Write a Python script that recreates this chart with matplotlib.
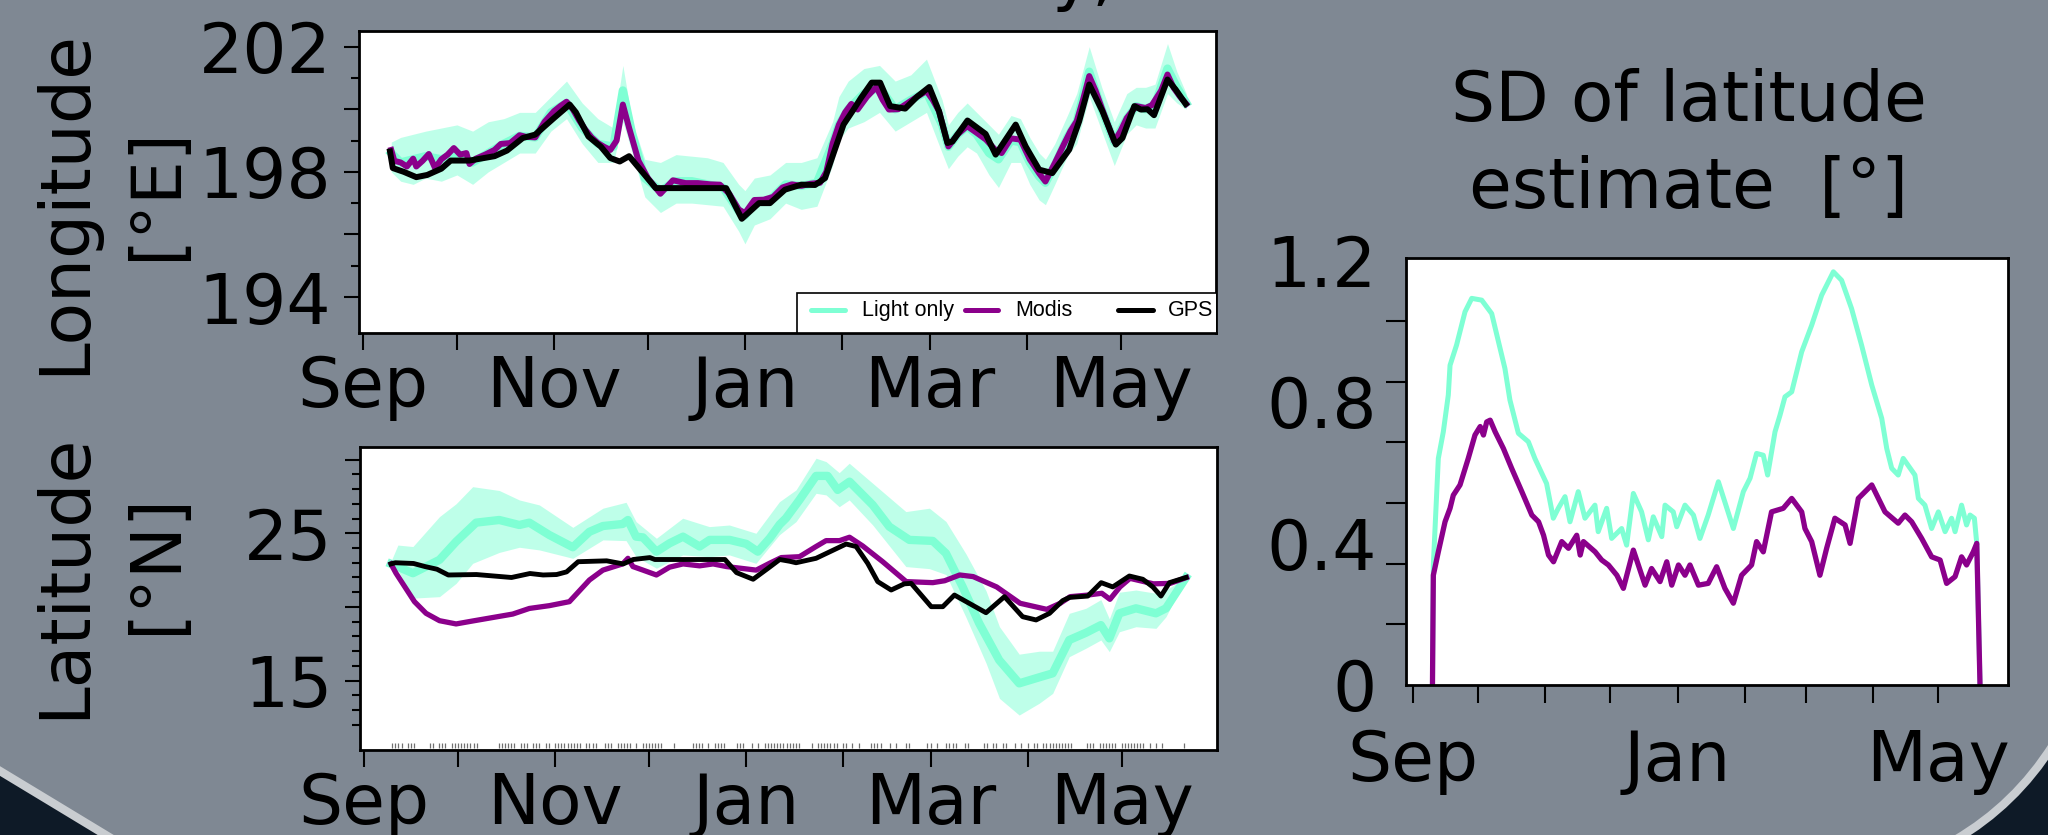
import numpy as np
import matplotlib.pyplot as plt
from matplotlib.path import Path
from matplotlib.patches import PathPatch, Rectangle
from matplotlib.lines import Line2D

W, H = 2048, 835
BG = '#7f8893'
MINT = '#7FFFD4'
PURPLE = '#8B008B'

# x axis: days since 1 September
month_ticks = [0, 30, 61, 91, 122, 153, 181, 212, 242]
month_labels = ['Sep', '', 'Nov', '', 'Jan', '', 'Mar', '', 'May']
sd_month_labels = ['Sep', '', '', '', 'Jan', '', '', '', 'May']

# ---------------- longitude panel ----------------
lon_band_days = [9, 12, 16, 20, 25, 30, 35, 40, 45, 50,
                 55, 60, 65, 70, 75, 80, 83, 86, 90, 95,
                 100, 105, 110, 115, 120, 122, 125, 130, 135, 140,
                 145, 150, 152, 155, 160, 165, 170, 175, 180, 185,
                 187, 190, 193, 196, 200, 203, 207, 210, 213, 216,
                 218, 221, 225, 228, 232, 236, 240, 244, 247, 250,
                 253, 257, 260, 263]
lon_light = [198.6, 198.3, 198.4, 198.5, 198.4, 198.6, 198.3, 198.6, 198.9, 199.15,
             199.1, 199.9, 200.2, 199.4, 198.9, 198.8, 200.6, 199.2, 197.8, 197.4,
             197.7, 197.7, 197.6, 197.5, 196.75, 196.6, 197.0, 197.1, 197.6, 197.55,
             197.65, 198.9, 199.5, 200.0, 200.5, 200.7, 200.0, 200.3, 200.55, 199.5,
             198.8, 199.2, 199.45, 199.2, 198.6, 198.4, 199.0, 198.95, 198.3, 197.85,
             197.65, 198.2, 199.1, 199.6, 201.2, 200.0, 198.95, 199.7, 200.1, 200.0,
             200.15, 201.3, 200.7, 200.2]
lon_light_lo = [198.0, 197.7, 197.6, 197.8, 197.7, 197.9, 197.6, 198.0, 198.3, 198.6,
                198.6, 199.3, 199.7, 198.9, 198.3, 198.3, 199.6, 198.6, 197.2, 196.7,
                197.0, 197.0, 196.95, 196.9, 196.1, 195.7, 196.3, 196.5, 197.0, 196.8,
                196.9, 198.2, 199.0, 199.4, 199.6, 199.9, 199.3, 199.6, 199.9, 198.6,
                198.1, 198.5, 198.8, 198.6, 197.9, 197.5, 198.3, 198.3, 197.6, 197.1,
                196.95, 197.6, 198.5, 198.9, 200.4, 199.3, 198.2, 199.2, 199.5, 199.4,
                199.4, 200.5, 200.2, 200.0]
lon_light_hi = [198.95, 199.1, 199.2, 199.3, 199.4, 199.5, 199.3, 199.6, 199.7, 199.9,
                199.9, 200.4, 200.9, 200.2, 199.7, 199.4, 201.4, 199.6, 198.4, 198.3,
                198.55, 198.5, 198.45, 198.3, 197.6, 197.4, 197.8, 197.9, 198.3, 198.3,
                198.45, 199.6, 200.4, 200.9, 201.3, 201.4, 200.9, 201.1, 201.6, 200.3,
                199.5, 199.9, 200.2, 199.9, 199.5, 199.2, 199.8, 199.7, 199.1, 198.6,
                198.4, 198.9, 199.8, 200.5, 202.0, 200.7, 199.6, 200.5, 200.7, 200.7,
                200.8, 202.1, 201.2, 200.5]

lon_modis_days = [9, 10, 12, 14, 16, 17, 19, 21, 23, 25,
                  27, 29, 31, 33, 34, 36, 39, 42, 44, 47,
                  50, 52, 55, 58, 61, 63, 65, 67, 69, 71,
                  73, 75, 77, 79, 81, 83, 85, 88, 91, 95,
                  99, 103, 107, 111, 114, 117, 120, 122, 125, 128,
                  131, 134, 137, 140, 143, 146, 148, 150, 152, 154,
                  156, 158, 161, 164, 166, 168, 171, 174, 177, 180,
                  182, 184, 187, 190, 193, 196, 199, 202, 204, 207,
                  210, 213, 216, 218, 221, 224, 226, 228, 230, 232,
                  234, 236, 238, 240, 242, 244, 247, 250, 252, 255,
                  257, 259, 261, 263]
lon_modis = [198.7, 198.35, 198.3, 198.17, 198.42, 198.17, 198.35, 198.57, 198.12, 198.4,
             198.55, 198.76, 198.55, 198.6, 198.25, 198.42, 198.55, 198.7, 198.89, 198.92,
             199.17, 199.12, 199.1, 199.6, 199.94, 200.1, 200.24, 200.0, 199.65, 199.35,
             199.1, 198.92, 198.8, 198.7, 199.0, 200.15, 199.4, 198.35, 197.8, 197.3,
             197.73, 197.64, 197.64, 197.6, 197.59, 197.3, 196.8, 196.68, 197.1, 197.11,
             197.2, 197.5, 197.6, 197.55, 197.62, 197.65, 198.0, 198.9, 199.5, 199.9,
             200.17, 199.99, 200.4, 200.71, 200.3, 199.99, 200.0, 200.2, 200.4, 200.58,
             200.3, 199.94, 198.81, 199.2, 199.46, 199.25, 199.03, 198.7, 198.6, 199.07,
             199.03, 198.4, 197.95, 197.69, 198.28, 198.9, 199.3, 199.62, 200.3, 201.06,
             200.6, 200.04, 199.5, 198.97, 199.3, 199.72, 200.1, 200.04, 200.13, 200.6,
             201.11, 200.68, 200.4, 200.17]

lon_gps_days = [8.6, 9.5, 13, 17, 20.5, 25, 28, 34, 42, 46,
                51, 55, 61, 66, 68, 72, 76, 79, 82, 85,
                93.5, 116, 121, 126.5, 130, 134.8, 140, 144.4, 147.6, 150,
                153.5, 156.7, 159, 162.5, 165.2, 168.4, 173.2, 177, 180.9, 184,
                186.7, 188.3, 193.1, 198.9, 202.1, 208.5, 211.7, 216, 220.2, 225.6,
                228.8, 232, 236.2, 240.5, 242.6, 246.4, 248.5, 250.6, 252.7, 257,
                259.6, 262.8]
lon_gps = [198.65, 198.12, 198.0, 197.83, 197.9, 198.1, 198.36, 198.36, 198.5, 198.68,
           199.08, 199.19, 199.72, 200.15, 199.9, 199.13, 198.8, 198.44, 198.33, 198.5,
           197.48, 197.48, 196.5, 197.0, 197.0, 197.43, 197.59, 197.58, 197.8, 198.5,
           199.51, 199.99, 200.35, 200.85, 200.85, 200.10, 200.02, 200.4, 200.71, 199.94,
           198.92, 198.97, 199.64, 199.21, 198.55, 199.51, 198.81, 198.07, 197.96, 198.71,
           199.62, 200.79, 199.94, 198.87, 199.08, 200.10, 199.99, 200.0, 199.81, 200.95,
           200.63, 200.17]

# ---------------- latitude panel ----------------
lat_band_days = [8.6, 10.8, 15.6, 24.1, 29.4, 34.7, 43.2, 49.6, 56.0, 66.7,
                 76.3, 83.7, 86.9, 93.4, 101.8, 110.3, 116.7, 125.2, 132.7, 138.0,
                 144.4, 147.6, 151.8, 155.0, 162.5, 173.1, 180.6, 185.9, 192.3, 198.7,
                 203.0, 209.3, 215.7, 220.0, 225.3, 230.6, 235.4, 238.1, 241.3, 246.6,
                 253.0, 256.2, 262.6]
lat_light_hi = [23.1, 24.2, 24.1, 26.13, 27.0, 28.16, 27.9, 27.26, 26.92, 25.4,
                26.7, 27.1, 25.79, 24.66, 26.02, 25.45, 25.56, 25.0, 27.14, 27.94,
                30.09, 29.86, 29.11, 29.75, 28.39, 26.47, 26.7, 25.8, 23.6, 21.1,
                18.66, 16.8, 17.0, 17.0, 19.57, 19.91, 20.5, 19.2, 21.0, 21.15,
                20.93, 21.15, 22.0]
lat_light_lo = [22.8, 22.5, 20.6, 20.7, 21.6, 22.96, 23.7, 24.05, 23.87, 23.3,
                24.55, 24.5, 23.41, 22.63, 23.53, 23.41, 23.53, 22.96, 24.9, 25.79,
                27.71, 27.6, 26.8, 27.26, 25.56, 22.74, 22.6, 22.2, 19.3, 16.2,
                13.8, 12.67, 13.47, 14.14, 16.63, 17.2, 17.76, 16.97, 18.32, 18.66,
                18.55, 19.34, 22.0]

lat_light_days = [8.6, 15.6, 24.1, 29.4, 35.8, 43.2, 49.6, 52.8, 59.2, 66.7,
                  72.0, 76.3, 82.6, 84.3, 86.9, 89.1, 93.4, 97.6, 101.9, 107.2,
                  110.4, 116.8, 122.1, 125.8, 129.6, 132.8, 134.8, 139.1, 144.4, 148.1,
                  151.3, 155.1, 162.5, 167.8, 174.2, 181.7, 185.9, 191.2, 196.5, 202.9,
                  209.3, 215.7, 220.0, 225.3, 230.6, 235.4, 238.1, 241.3, 246.6, 253.0,
                  256.2, 262.6]
lat_light = [22.92, 22.29, 23.2, 24.43, 25.72, 25.9, 25.56, 25.72, 24.88, 24.05,
             25.1, 25.49, 25.63, 25.9, 24.77, 24.72, 23.75, 24.32, 24.77, 24.1,
             24.55, 24.55, 24.28, 23.75, 24.66, 25.6, 26.02, 27.26, 28.89, 28.89,
             27.94, 28.5, 26.92, 25.45, 24.55, 24.48, 23.64, 21.38, 18.9, 16.4,
             14.82, 15.23, 15.5, 17.76, 18.25, 18.77, 17.87, 19.57, 19.91, 19.57,
             19.91, 22.0]

lat_modis_days = [8.6, 10.2, 16.1, 19.8, 24.1, 29.4, 34.7, 47.5, 52.8, 59.2,
                  65.6, 72.0, 76.3, 82.6, 84.3, 85.9, 89.1, 93.4, 97.6, 101.9,
                  107.2, 111.5, 115.8, 125.3, 129.6, 133.3, 139.1, 144.4, 147.6, 151.9,
                  155.1, 159.3, 165.7, 173.2, 181.7, 185.5, 190.3, 194.6, 202.1, 209.6,
                  218.1, 222.4, 225.6, 230.9, 235.7, 238.3, 241.5, 244.7, 252.2, 257.5,
                  262.8]
lat_modis = [22.92, 22.29, 20.36, 19.57, 19.07, 18.85, 19.05, 19.52, 19.9, 20.09,
             20.36, 21.83, 22.5, 22.92, 23.3, 22.74, 22.5, 22.17, 22.7, 22.92,
             22.79, 22.92, 22.74, 22.5, 22.97, 23.35, 23.41, 24.1, 24.5, 24.5,
             24.73, 24.14, 23.07, 21.72, 21.65, 21.78, 22.17, 22.06, 21.36, 20.25,
             19.84, 20.25, 20.7, 20.8, 20.93, 20.52, 21.36, 21.94, 21.57, 21.6,
             22.0]

lat_gps_days = [8.6, 10, 15.8, 19.5, 23.3, 26.9, 35.9, 47.1, 53.0, 57.2,
                61.5, 64.7, 68.4, 77.5, 82.8, 86.0, 91.3, 92.9, 115.3, 119.0,
                124.3, 129.1, 132.8, 136.0, 138.0, 144.4, 154.0, 157.2, 160.9, 164.1,
                168.4, 172.6, 174.8, 181.2, 184.9, 188.6, 198.7, 204.6, 210.4, 214.7,
                219.0, 223.2, 225.4, 231.2, 235.5, 239.2, 244.5, 248.8, 252.0, 254.6,
                257.3, 262.6]
lat_gps = [22.92, 23.0, 22.95, 22.74, 22.56, 22.17, 22.2, 22.0, 22.27, 22.17,
           22.2, 22.38, 23.07, 23.13, 22.92, 23.22, 23.35, 23.22, 23.22, 22.33,
           21.88, 22.63, 23.22, 23.1, 23.0, 23.3, 24.27, 24.1, 22.96, 21.72,
           21.15, 21.57, 21.6, 20.02, 20.02, 20.81, 19.61, 20.7, 19.34, 19.12,
           19.57, 20.43, 20.65, 20.74, 21.65, 21.36, 22.1, 21.88, 21.36, 20.74,
           21.65, 22.0]

# days with observations (rug), as runs of consecutive days
rug_runs = [(9, 12), (14, 16), (21, 22), (24, 26), (28, 36), (43, 48), (50, 52),
            (54, 56), (58, 59), (61, 69), (71, 74), (77, 79), (81, 85), (87, 87),
            (89, 95), (99, 99), (105, 108), (110, 110), (112, 115), (119, 121),
            (124, 124), (126, 126), (128, 139), (143, 143), (145, 151), (153, 154),
            (156, 156), (158, 158), (162, 165), (168, 168), (170, 170), (173, 174),
            (180, 181), (183, 183), (186, 189), (192, 193), (198, 199), (201, 202),
            (204, 205), (208, 208), (210, 210), (212, 212), (214, 215), (217, 226),
            (231, 233), (235, 240), (242, 249), (251, 251), (253, 253), (255, 255),
            (262, 262)]

# ---------------- SD panel ----------------
sd_light_days = [9.0, 9.4, 11.7, 14.0, 16.3, 17.1, 20.1, 24.0, 27.1, 31.7, 36.3,
                 42.4, 44.7, 48.6, 53.2, 56.2, 61.6, 64.7, 67.0, 70.1, 72.4,
                 76.2, 79.3, 83.9, 85.4, 89.3, 91.6, 96.2, 98.5, 101.6, 105.4,
                 108.5, 110.8, 114.7, 116.2, 120.0, 121.6, 125.4, 129.3, 132.3, 136.1,
                 140.8, 147.7, 152.3, 155.4, 158.4, 161.5, 163.5, 166.9, 169.2, 171.5,
                 174.6, 179.2, 183.8, 188.4, 193.8, 197.6, 202.2, 206.8, 211.5, 216.1,
                 218.4, 220.7, 223.7, 226.0, 231.4, 233.0, 236.0, 239.1, 242.2, 245.3,
                 248.3, 249.9, 252.9, 255.2, 256.8, 258.8, 259.9, 261.4]
sd_light = [0.0, 0.339, 0.64, 0.715, 0.819, 0.903, 0.96, 1.054, 1.092, 1.087, 1.049,
            0.894, 0.805, 0.711, 0.687, 0.64, 0.569, 0.471, 0.499, 0.532, 0.461,
            0.546, 0.471, 0.508, 0.433, 0.499, 0.414, 0.442, 0.395, 0.541, 0.489,
            0.41, 0.475, 0.419, 0.508, 0.489, 0.447, 0.508, 0.48, 0.414, 0.48,
            0.574, 0.442, 0.546, 0.584, 0.654, 0.649, 0.593, 0.715, 0.762, 0.814,
            0.828, 0.941, 1.016, 1.101, 1.167, 1.143, 1.063, 0.96, 0.847, 0.753,
            0.668, 0.612, 0.593, 0.64, 0.593, 0.527, 0.508, 0.442, 0.489, 0.433,
            0.471, 0.433, 0.508, 0.452, 0.48, 0.471, 0.40, 0.0]

sd_modis_days = [9.0, 9.4, 11.7, 14.8, 17.1, 18.6, 21.7, 25.5, 28.6, 31.0,
                 32.5, 34.0, 35.6, 37.9, 41.7, 45.5, 50.2, 54.8, 57.9, 60.2,
                 62.5, 64.8, 68.6, 71.7, 75.5, 77.1, 78.6, 84.0, 87.0, 90.1,
                 94.0, 97.0, 101.6, 107.0, 110.0, 113.9, 117.0, 119.3, 122.4, 125.4,
                 127.7, 131.6, 136.1, 140.0, 143.8, 147.7, 151.5, 156.1, 158.4, 161.5,
                 165.3, 170.7, 174.6, 179.2, 180.7, 183.8, 187.6, 190.7, 194.5, 199.2,
                 201.5, 205.3, 211.5, 217.6, 223.7, 226.8, 229.9, 234.5, 239.1, 243.0,
                 246.0, 249.9, 252.9, 255.2, 258.3, 259.9, 261.4]
sd_modis = [0.0, 0.31, 0.376, 0.461, 0.499, 0.536, 0.565, 0.64, 0.706, 0.73,
            0.706, 0.743, 0.748, 0.715, 0.668, 0.612, 0.546, 0.48, 0.461, 0.423,
            0.367, 0.348, 0.405, 0.386, 0.423, 0.367, 0.405, 0.376, 0.353, 0.339,
            0.31, 0.273, 0.381, 0.282, 0.329, 0.292, 0.348, 0.282, 0.339, 0.31,
            0.339, 0.282, 0.287, 0.334, 0.273, 0.231, 0.31, 0.339, 0.405, 0.376,
            0.489, 0.499, 0.527, 0.489, 0.442, 0.405, 0.31, 0.386, 0.471, 0.452,
            0.4, 0.527, 0.565, 0.489, 0.457, 0.48, 0.461, 0.414, 0.362, 0.353,
            0.287, 0.306, 0.362, 0.339, 0.376, 0.40, 0.0]

plt.rcParams['font.family'] = 'DejaVu Sans'

fig = plt.figure(figsize=(W / 100, H / 100), dpi=100)
fig.patch.set_facecolor(BG)


def px(x, y):
    # pixel position (from top-left) -> figure fraction
    return x / W, 1 - y / H


def add_px_axes(x0, y0, x1, y1):
    return fig.add_axes([x0 / W, 1 - y1 / H, (x1 - x0) / W, (y1 - y0) / H])


# slide background corners
def corner(verts_px, ring_px):
    verts = [px(*v) for v in verts_px]
    codes = [Path.MOVETO, Path.CURVE3, Path.CURVE3, Path.LINETO, Path.CLOSEPOLY]
    fig.add_artist(PathPatch(Path(verts, codes), transform=fig.transFigure,
                             facecolor='#0e1a27', edgecolor='none', zorder=0))
    ring = [px(*v) for v in ring_px]
    fig.add_artist(PathPatch(Path(ring, [Path.MOVETO, Path.CURVE3, Path.CURVE3]),
                             transform=fig.transFigure, facecolor='none',
                             edgecolor='#c9cdd1', lw=6, zorder=0))


corner([(-5, 768), (48, 800), (114, 840), (-5, 840), (-5, 768)],
       [(-5, 768), (48, 800), (114, 840)])
corner([(1955, 840), (2015, 805), (2053, 745), (2053, 840), (1955, 840)],
       [(1955, 840), (2015, 805), (2053, 745)])

# cut-off slide title above the figure
fig.text(*px(1052, -2), 'y,', ha='left', va='baseline', fontsize=50)

ax_lon = add_px_axes(359, 31, 1216, 333)
ax_lat = add_px_axes(360, 447, 1217, 750)
ax_sd = add_px_axes(1406, 258, 2008, 685)

for ax in (ax_lon, ax_lat, ax_sd):
    ax.set_facecolor('white')
    for s in ax.spines.values():
        s.set_linewidth(2)

for ax in (ax_lon, ax_lat):
    ax.set_xlim(-1.3, 272.5)
    ax.set_xticks(month_ticks)
    ax.set_xticklabels(month_labels)
    ax.tick_params(axis='x', direction='out', length=12, width=1.5, pad=3, labelsize=50)
    ax.tick_params(axis='y', which='major', direction='out', length=10.8, width=1.5,
                   pad=9, labelsize=50)
    ax.tick_params(axis='y', which='minor', direction='out', length=5.8, width=1.5)

# longitude
ax = ax_lon
ax.fill_between(lon_band_days, lon_light_lo, lon_light_hi, color=MINT, alpha=0.5, lw=0)
ax.plot(lon_band_days, lon_light, color=MINT, lw=6)
ax.plot(lon_modis_days, lon_modis, color=PURPLE, lw=4.3)
ax.plot(lon_gps_days, lon_gps, color='black', lw=4.3)
ax.set_ylim(192.85, 202.5)
ax.set_yticks([194, 196, 198, 200, 202])
ax.set_yticklabels(['194', '', '198', '', '202'])
ax.set_yticks([195, 197, 199, 201], minor=True)

# legend drawn by hand to match the original layout
ax.add_patch(Rectangle((0.5107, 0), 0.49, 0.1315, transform=ax.transAxes,
                       facecolor='white', edgecolor='black', lw=1.2, zorder=5))
for (x0, x1, xt, col, name) in [(0.528, 0.567, 0.5866, MINT, 'Light only'),
                                (0.707, 0.746, 0.7655, PURPLE, 'Modis'),
                                (0.8856, 0.9265, 0.944, 'black', 'GPS')]:
    ax.add_line(Line2D([x0, x1], [0.076, 0.076], transform=ax.transAxes,
                       color=col, lw=3.6, solid_capstyle='round', zorder=6))
    ax.text(xt, 0.074, name, transform=ax.transAxes, va='center', ha='left',
            fontsize=15.5, family='Liberation Sans', zorder=6)

# latitude
ax = ax_lat
ax.fill_between(lat_band_days, lat_light_lo, lat_light_hi, color=MINT, alpha=0.5, lw=0)
ax.plot(lat_light_days, lat_light, color=MINT, lw=6)
ax.plot(lat_modis_days, lat_modis, color=PURPLE, lw=3.8)
ax.plot(lat_gps_days, lat_gps, color='black', lw=3.5)
rug_days = np.concatenate([np.arange(a, b + 1) for a, b in rug_runs])
ax.vlines(rug_days, 0.007, 0.023, transform=ax.get_xaxis_transform(),
          color='#707070', lw=0.9)
ax.set_ylim(10.3, 30.85)
ax.set_yticks([15, 20, 25, 30])
ax.set_yticklabels(['15', '', '25', ''])
ax.set_yticks([v for v in range(12, 30) if v % 5], minor=True)

# SD of latitude estimate
ax = ax_sd
ax.plot(sd_light_days, sd_light, color=MINT, lw=3.6)
ax.plot(sd_modis_days, sd_modis, color=PURPLE, lw=3.8)
ax.set_xlim(-3.2, 274.3)
ax.set_ylim(0, 1.206)
ax.set_xticks(month_ticks)
ax.set_xticklabels(sd_month_labels)
ax.set_yticks([0, 0.4, 0.8, 1.2])
ax.set_yticklabels(['0', '0.4', '0.8', '1.2'])
ax.set_yticks(np.linspace(0, 1.2, 8), minor=True)
ax.tick_params(axis='x', direction='out', length=13, width=1.5, pad=18, labelsize=50)
ax.tick_params(axis='y', which='major', length=0, pad=21, labelsize=50)
ax.tick_params(axis='y', which='minor', direction='out', length=14.4, width=1.5)

# axis titles
fig.text(*px(65, 202), 'Longitude', rotation=90, ha='center', va='center', fontsize=50)
fig.text(*px(156, 193), '[°E]', rotation=90, ha='center', va='center', fontsize=50)
fig.text(*px(65, 576), 'Latitude', rotation=90, ha='center', va='center', fontsize=50)
fig.text(*px(156, 564), '[°N]', rotation=90, ha='center', va='center', fontsize=50)
fig.text(*px(1689, 121), 'SD of latitude', ha='center', va='baseline', fontsize=50)
fig.text(*px(1689, 208), 'estimate  [°]', ha='center', va='baseline', fontsize=50)

fig.savefig('out.png', dpi=100, facecolor=fig.get_facecolor())
